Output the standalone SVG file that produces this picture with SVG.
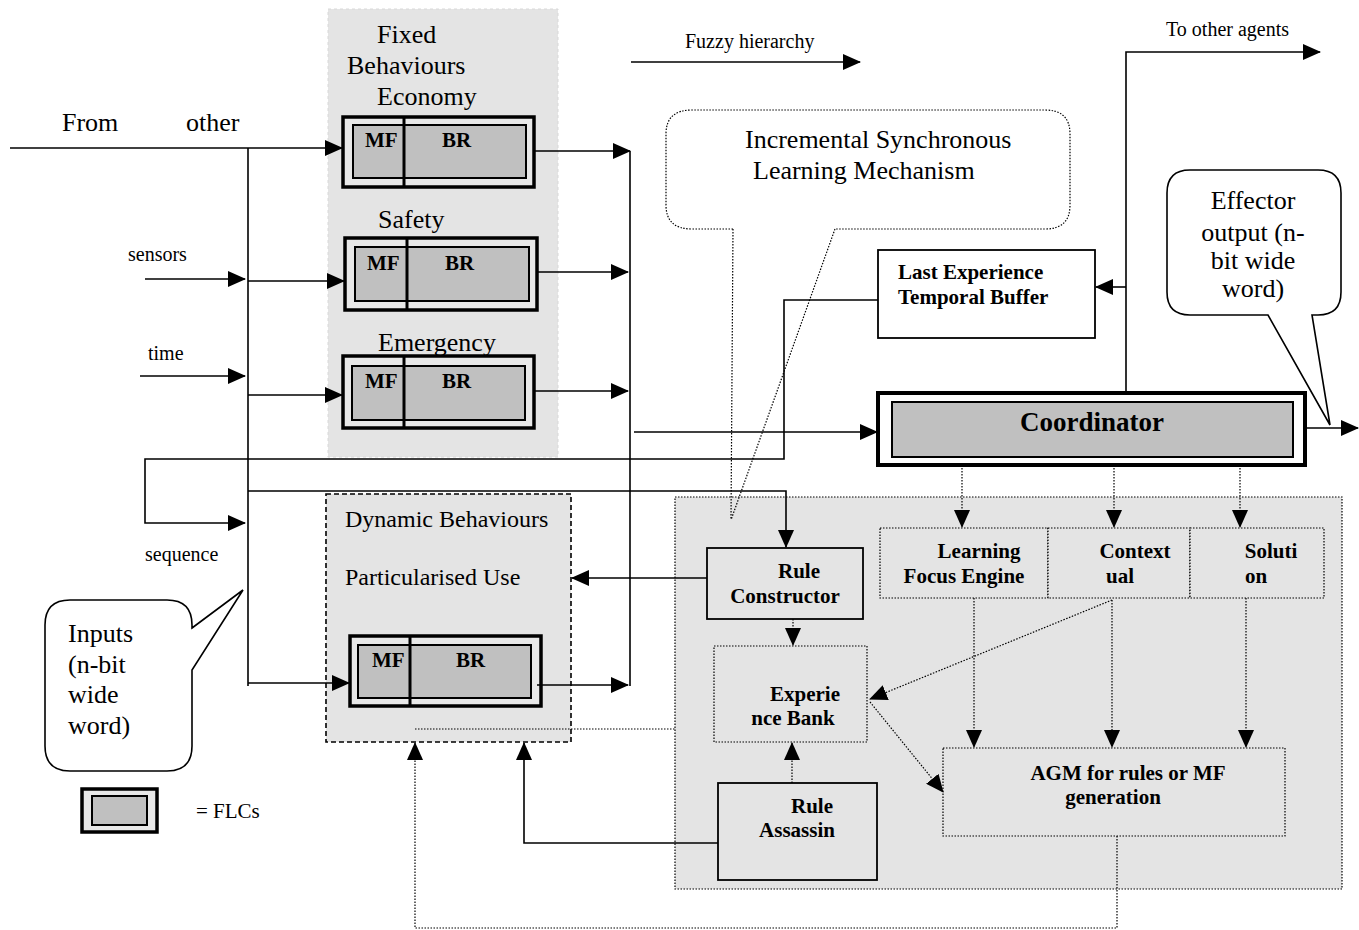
<svg xmlns="http://www.w3.org/2000/svg" width="1359" height="930" viewBox="0 0 1359 930">
<defs>
<marker id="ah" markerWidth="18" markerHeight="16" refX="17" refY="8" orient="auto" markerUnits="userSpaceOnUse"><path d="M0,0 L18,8 L0,16 z" fill="#000"/></marker>
<style>
.t{font-family:"Liberation Serif","Times New Roman",serif;fill:#000}
.b{font-weight:bold}
.ln{stroke:#000;stroke-width:1.6;fill:none}
.dl{stroke:#000;stroke-width:1.2;fill:none;stroke-dasharray:1.5,1.5}
.outer{fill:#e8e8e8;stroke:#000;stroke-width:3.5}
.inner{fill:#c0c0c0;stroke:#000;stroke-width:2}
.div{stroke:#000;stroke-width:3}
.box{fill:#fff;stroke:#000;stroke-width:1.8}
.gbox{fill:#e4e4e4;stroke:#000;stroke-width:1.8}
.dbox{fill:#e4e4e4;stroke:#000;stroke-width:1.2;stroke-dasharray:1.5,1.5}
</style>
</defs>
<rect width="1359" height="930" fill="#fff"/>

<g id="fixed-panel">
<rect x="328" y="9" width="230" height="448" fill="#e4e4e4" stroke="#d8d8d8" stroke-dasharray="3,3"/>
<text class="t" x="377" y="43" font-size="26">Fixed</text>
<text class="t" x="347" y="74" font-size="26">Behaviours</text>
</g>

<g id="economy">
<text class="t" x="377" y="105" font-size="26">Economy</text>
<rect class="outer" x="343" y="117" width="191" height="70"/>
<rect class="inner" x="353" y="125" width="173" height="53"/>
<line class="div" x1="404" y1="117" x2="404" y2="187"/>
<text class="t b" x="365" y="147" font-size="21">MF</text>
<text class="t b" x="442" y="147" font-size="21">BR</text>
</g>

<g id="safety">
<text class="t" x="378" y="228" font-size="26">Safety</text>
<rect class="outer" x="345" y="238" width="192" height="72"/>
<rect class="inner" x="355" y="247" width="174" height="54"/>
<line class="div" x1="407" y1="238" x2="407" y2="310"/>
<text class="t b" x="367" y="270" font-size="21">MF</text>
<text class="t b" x="445" y="270" font-size="21">BR</text>
</g>

<g id="emergency">
<text class="t" x="378" y="351" font-size="26">Emergency</text>
<rect class="outer" x="343" y="356" width="191" height="72"/>
<rect class="inner" x="352" y="366" width="173" height="54"/>
<line class="div" x1="404" y1="356" x2="404" y2="428"/>
<text class="t b" x="365" y="388" font-size="21">MF</text>
<text class="t b" x="442" y="388" font-size="21">BR</text>
</g>

<g id="dynamic">
<rect x="326" y="494" width="245" height="248" fill="#e4e4e4" stroke="#000" stroke-width="1.6" stroke-dasharray="5,3"/>
<text class="t" x="345" y="527" font-size="24">Dynamic Behaviours</text>
<text class="t" x="345" y="585" font-size="24">Particularised Use</text>
<rect class="outer" x="350" y="636" width="191" height="70"/>
<rect class="inner" x="358" y="645" width="173" height="53"/>
<line class="div" x1="410" y1="636" x2="410" y2="706"/>
<text class="t b" x="372" y="667" font-size="21">MF</text>
<text class="t b" x="456" y="667" font-size="21">BR</text>
</g>

<g id="learning-panel">
<rect class="dbox" x="675" y="497" width="667" height="392"/>
</g>

<g id="isl-callout">
<path class="dl" d="M733,229 L692,229 Q666,229 666,205 L666,134 Q666,110 692,110 L1045,110 Q1070,110 1070,134 L1070,205 Q1070,229 1045,229 L835,229"/>
<text class="t" x="745" y="148" font-size="26">Incremental Synchronous</text>
<text class="t" x="753" y="179" font-size="26">Learning Mechanism</text>
</g>

<g id="effector-callout">
<path d="M1268,315 L1190,315 Q1167,315 1167,292 L1167,193 Q1167,170 1190,170 L1318,170 Q1341,170 1341,193 L1341,292 Q1341,315 1318,315 L1312,315 L1330,425 Z" fill="#fff" stroke="#000" stroke-width="1.6"/>
<text class="t" x="1253" y="209" font-size="26" text-anchor="middle">Effector</text>
<text class="t" x="1253" y="241" font-size="26" text-anchor="middle">output (n-</text>
<text class="t" x="1253" y="269" font-size="26" text-anchor="middle">bit wide</text>
<text class="t" x="1253" y="297" font-size="26" text-anchor="middle">word)</text>
</g>

<g id="inputs-callout">
<path d="M192,628 L243,590 L192,670 L192,746 Q192,771 167,771 L70,771 Q45,771 45,746 L45,625 Q45,600 70,600 L167,600 Q192,600 192,625 Z" fill="#fff" stroke="#000" stroke-width="1.6"/>
<text class="t" x="68" y="642" font-size="26">Inputs</text>
<text class="t" x="68" y="673" font-size="26">(n-bit</text>
<text class="t" x="68" y="703" font-size="26">wide</text>
<text class="t" x="68" y="734" font-size="26">word)</text>
</g>

<g id="legend">
<rect class="outer" x="82" y="789" width="75" height="43" fill="#fff"/>
<rect class="inner" x="92" y="796" width="55" height="29"/>
<text class="t" x="196" y="818" font-size="21">= FLCs</text>
</g>

<g id="last-experience">
<rect class="box" x="878" y="250" width="217" height="88"/>
<text class="t b" x="898" y="279" font-size="21">Last Experience</text>
<text class="t b" x="898" y="304" font-size="21">Temporal Buffer</text>
</g>

<g id="coordinator">
<rect x="878" y="393" width="427" height="72" fill="#fff" stroke="#000" stroke-width="4"/>
<rect class="inner" x="892" y="402" width="401" height="55"/>
<text class="t b" x="1092" y="431" font-size="27" text-anchor="middle">Coordinator</text>
</g>

<g id="learning-focus">
<rect class="dbox" x="880" y="528" width="168" height="70"/>
<text class="t b" x="979" y="558" font-size="21" text-anchor="middle">Learning</text>
<text class="t b" x="964" y="583" font-size="21" text-anchor="middle">Focus Engine</text>
</g>
<g id="contextual">
<rect class="dbox" x="1048" y="528" width="142" height="70"/>
<text class="t b" x="1135" y="558" font-size="21" text-anchor="middle">Context</text>
<text class="t b" x="1120" y="583" font-size="21" text-anchor="middle">ual</text>
</g>
<g id="solution">
<rect class="dbox" x="1190" y="528" width="134" height="70"/>
<text class="t b" x="1271" y="558" font-size="21" text-anchor="middle">Soluti</text>
<text class="t b" x="1256" y="583" font-size="21" text-anchor="middle">on</text>
</g>

<g id="rule-constructor">
<rect class="gbox" x="707" y="548" width="156" height="71"/>
<text class="t b" x="799" y="578" font-size="21" text-anchor="middle">Rule</text>
<text class="t b" x="785" y="603" font-size="21" text-anchor="middle">Constructor</text>
</g>

<g id="experience-bank">
<rect class="dbox" x="714" y="646" width="153" height="96"/>
<text class="t b" x="805" y="701" font-size="21" text-anchor="middle">Experie</text>
<text class="t b" x="793" y="725" font-size="21" text-anchor="middle">nce Bank</text>
</g>

<g id="rule-assassin">
<rect class="gbox" x="718" y="783" width="159" height="97"/>
<text class="t b" x="812" y="813" font-size="21" text-anchor="middle">Rule</text>
<text class="t b" x="797" y="837" font-size="21" text-anchor="middle">Assassin</text>
</g>

<g id="agm">
<rect class="dbox" x="943" y="748" width="342" height="88"/>
<text class="t b" x="1128" y="780" font-size="21" text-anchor="middle">AGM for rules or MF</text>
<text class="t b" x="1113" y="804" font-size="21" text-anchor="middle">generation</text>
</g>

<g id="labels">
<text class="t" x="62" y="131" font-size="26">From</text>
<text class="t" x="186" y="131" font-size="26">other</text>
<text class="t" x="128" y="261" font-size="20">sensors</text>
<text class="t" x="148" y="360" font-size="20">time</text>
<text class="t" x="145" y="561" font-size="20">sequence</text>
<text class="t" x="685" y="48" font-size="20">Fuzzy hierarchy</text>
<text class="t" x="1166" y="36" font-size="20">To other agents</text>
</g>

<g id="connectors">
<line class="ln" x1="10" y1="148" x2="342" y2="148" marker-end="url(#ah)"/>
<line class="ln" x1="248" y1="148" x2="248" y2="686"/>
<line class="ln" x1="145" y1="279" x2="245" y2="279" marker-end="url(#ah)"/>
<line class="ln" x1="248" y1="281" x2="344" y2="281" marker-end="url(#ah)"/>
<line class="ln" x1="140" y1="376" x2="245" y2="376" marker-end="url(#ah)"/>
<line class="ln" x1="248" y1="395" x2="342" y2="395" marker-end="url(#ah)"/>
<polyline class="ln" points="248,683 349,683" marker-end="url(#ah)"/>
<line class="ln" x1="534" y1="151" x2="630" y2="151" marker-end="url(#ah)"/>
<line class="ln" x1="537" y1="272" x2="628" y2="272" marker-end="url(#ah)"/>
<line class="ln" x1="534" y1="391" x2="628" y2="391" marker-end="url(#ah)"/>
<line class="ln" x1="537" y1="685" x2="628" y2="685" marker-end="url(#ah)"/>
<line class="ln" x1="630" y1="151" x2="630" y2="686"/>
<line class="ln" x1="634" y1="432" x2="877" y2="432" marker-end="url(#ah)"/>
<line class="ln" x1="631" y1="62" x2="860" y2="62" marker-end="url(#ah)"/>
<line class="ln" x1="1305" y1="428" x2="1358" y2="428" marker-end="url(#ah)"/>
<polyline class="ln" points="1126,393 1126,52 1320,52" marker-end="url(#ah)"/>
<line class="ln" x1="1126" y1="287" x2="1096" y2="287" marker-end="url(#ah)"/>
<polyline class="ln" points="878,300 784,300 784,459 145,459 145,523 245,523" marker-end="url(#ah)"/>
<polyline class="ln" points="248,491 786,491 786,547" marker-end="url(#ah)"/>
<line class="ln" x1="707" y1="578" x2="572" y2="578" marker-end="url(#ah)"/>
<polyline class="ln" points="718,843 524,843 524,743" marker-end="url(#ah)"/>
<line class="dl" x1="733" y1="229" x2="731" y2="520"/>
<line class="dl" x1="835" y1="229" x2="731" y2="520"/>
<line class="dl" x1="962" y1="465" x2="962" y2="527" marker-end="url(#ah)"/>
<line class="dl" x1="1114" y1="465" x2="1114" y2="527" marker-end="url(#ah)"/>
<line class="dl" x1="1240" y1="465" x2="1240" y2="527" marker-end="url(#ah)"/>
<line class="dl" x1="974" y1="598" x2="974" y2="747" marker-end="url(#ah)"/>
<line class="dl" x1="1112" y1="600" x2="1112" y2="747" marker-end="url(#ah)"/>
<line class="dl" x1="1246" y1="598" x2="1246" y2="747" marker-end="url(#ah)"/>
<line class="dl" x1="1112" y1="600" x2="870" y2="699" marker-end="url(#ah)"/>
<line class="dl" x1="870" y1="702" x2="943" y2="792" marker-end="url(#ah)"/>
<line class="dl" x1="793" y1="619" x2="793" y2="645" marker-end="url(#ah)"/>
<line class="dl" x1="792" y1="783" x2="792" y2="743" marker-end="url(#ah)"/>
<polyline class="dl" points="1117,836 1117,928 415,928 415,743" marker-end="url(#ah)"/>
<line class="dl" x1="415" y1="729" x2="675" y2="729"/>
</g>
</svg>
